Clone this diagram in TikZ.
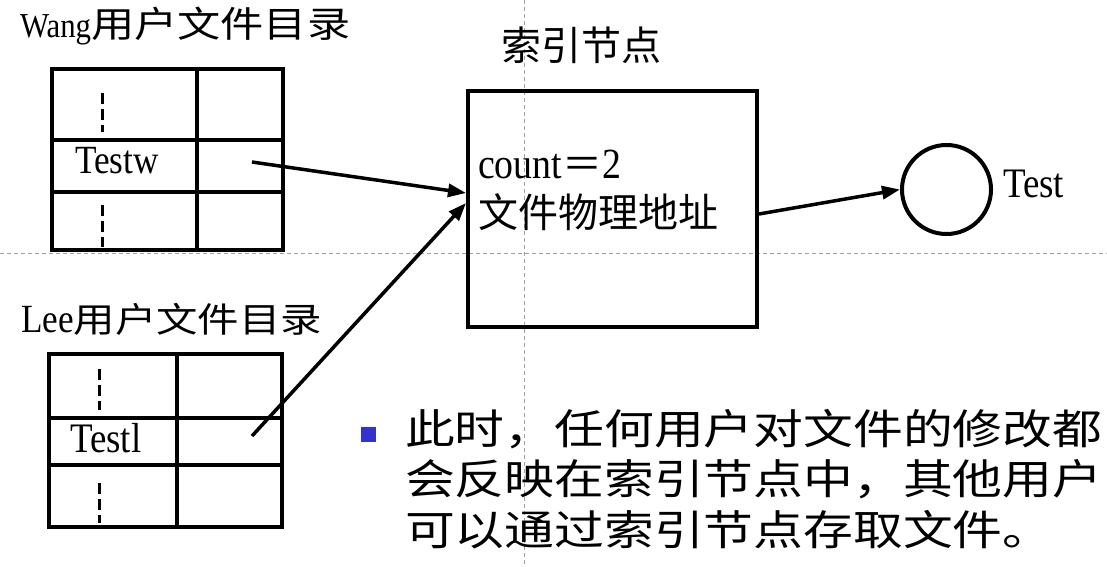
\documentclass[tikz,border=0pt]{standalone}
\usepackage{fontspec}
\setmainfont{Liberation Serif}[FakeStretch=0.88]
\newfontfamily\cjkW{Noto Sans CJK SC}[FakeStretch=1.2]
\newfontfamily\cjkN{Noto Sans CJK SC}
\usetikzlibrary{arrows.meta}
\definecolor{bul}{RGB}{51,51,204}
\definecolor{guidegray}{RGB}{160,160,160}
\newcommand\fs[1]{\fontsize{#1}{#1}\selectfont}
\tikzset{
  tab/.style={draw, line width=4pt, inner sep=0pt},
  grid/.style={line width=4pt},
  dots/.style={line width=3pt, dash pattern=on 11pt off 5pt},
  arr/.style={line width=3.5pt, -{Triangle[length=18pt,width=13pt]}},
  guide/.style={draw=guidegray, line width=1pt, dash pattern=on 4pt off 3pt},
  lbl/.style={anchor=base west, inner sep=0pt, outer sep=0pt},
}
\begin{document}
\begin{tikzpicture}[x=1pt,y=-1pt]
\fill[white] (0,0) rectangle (1107,566);
\useasboundingbox (0,0) rectangle (1107,566);
% guide lines
\draw[guide] (0,253) -- (1107,253);
\draw[guide] (524,0) -- (524,566);

% Wang directory
\node[lbl] (wangt) at (20,37) {\fs{35}Wang{\cjkW\fs{36}用户文件目录}};
\node[tab, minimum width=231pt, minimum height=181pt] (wtab) at (167.5,159.5) {};
\draw[grid] (197,69) -- (197,250);
\draw[grid] (52,140) -- (283,140);
\draw[grid] (52,192) -- (283,192);
\draw[dots] (102,93) -- (102,132);
\draw[dots] (102,205) -- (102,247);
\node[lbl] (testw) at (75,173) {\fs{40}Testw};
\coordinate (wptr) at (252,162);

% Lee directory
\node[lbl] (leet) at (21,332) {\fs{40}Lee{\cjkW\fs{34.5}用户文件目录}};
\node[tab, minimum width=233pt, minimum height=173pt] (ltab) at (165.5,440.5) {};
\draw[grid] (177,354) -- (177,527);
\draw[grid] (49,418) -- (282,418);
\draw[grid] (49,465) -- (282,465);
\draw[dots] (99,369) -- (99,410);
\draw[dots] (99,483) -- (99,523);
\node[lbl] (testl) at (70,452) {\fs{42}Testl};
\coordinate (lptr) at (252,436);

% index node
\node[lbl] (idxt) at (501,60) {\cjkN\fs{40}索引节点};
\node[tab, minimum width=289pt, minimum height=236pt] (idx) at (612.5,209) {};
\node[lbl] (cnt) at (478,178) {\fs{43}count{\cjkN\fs{40}＝}2};
\node[lbl] (addr) at (478,227) {\cjkN\fs{40}文件物理地址};

% file
\node[circle, draw, line width=4pt, minimum size=89pt, inner sep=0pt] (file) at (946.5,189.5) {};
\node[lbl] (test) at (1003,197) {\fs{42}Test};

% arrows
\draw[arr] (wptr) -- ([yshift=16pt]idx.west);
\draw[arr] (lptr) -- ([yshift=6pt]idx.west);
\draw[arr] ([yshift=-5pt]idx.east) -- (file.west);

% bullet text
\node[fill=bul, minimum size=15pt, inner sep=0pt] (bullet) at (368.5,434.5) {};
\node[lbl] (l1) at (405,444) {\cjkW\fs{41.5}此时，任何用户对文件的修改都};
\node[lbl] (l2) at (405,494) {\cjkW\fs{41.5}会反映在索引节点中，其他用户};
\node[lbl] (l3) at (405,545) {\cjkW\fs{41.5}可以通过索引节点存取文件。};
\end{tikzpicture}
\end{document}
